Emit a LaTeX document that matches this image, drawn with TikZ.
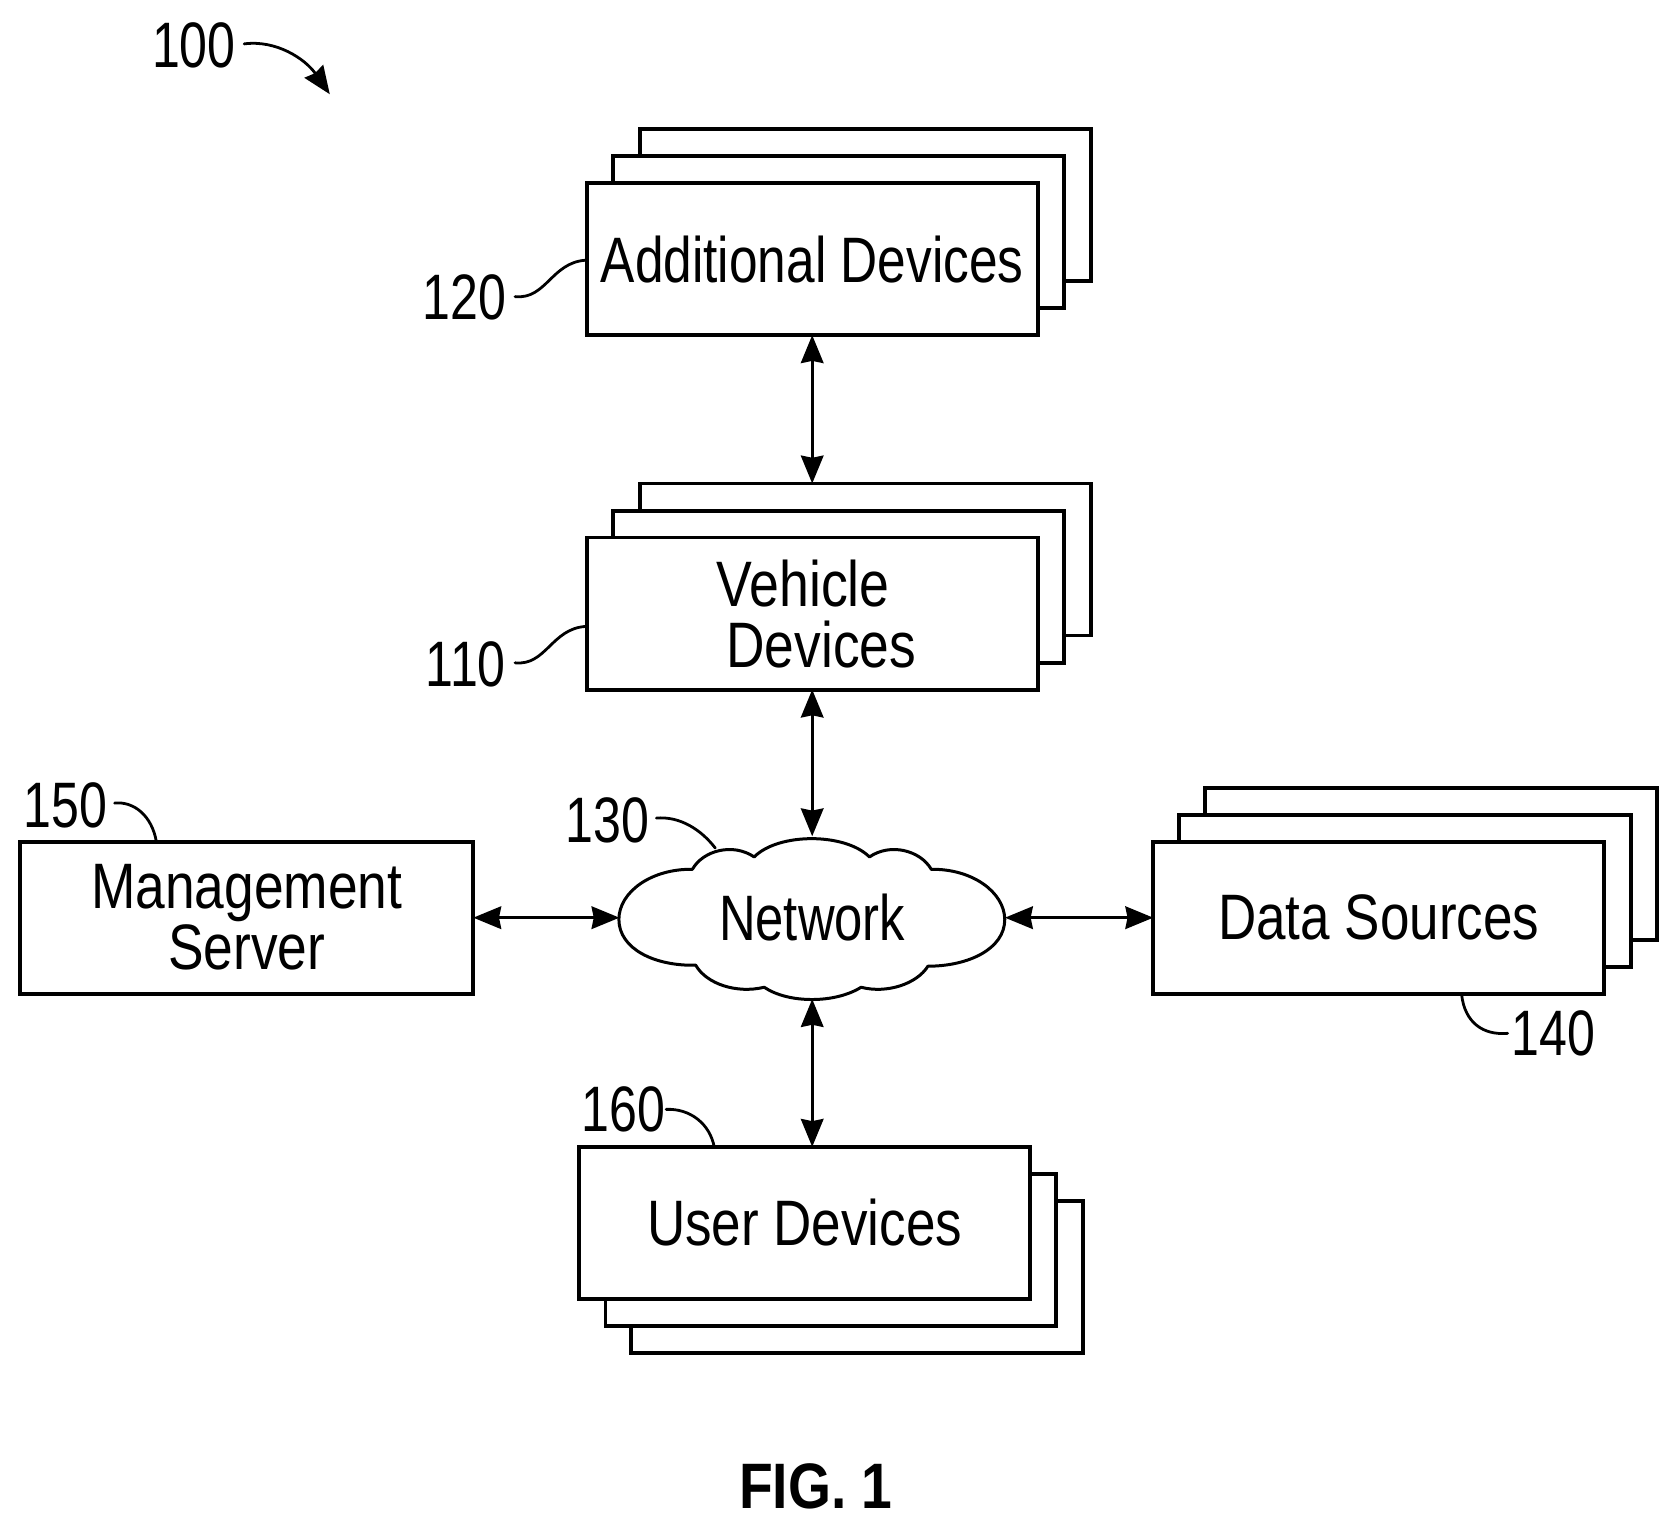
\documentclass[tikz,border=0pt]{standalone}
\usepackage{fontspec}
\setmainfont{Liberation Sans}
\usetikzlibrary{arrows.meta}
\newcommand{\narrow}[2][.78]{\scalebox{#1}[1]{#2}}
\tikzset{
  x=0.5pt,y=-0.5pt,
  devbox/.style={draw=black,fill=white,line width=1.8pt,minimum width=210.5pt,minimum height=71pt,inner sep=0pt,outer sep=0pt,align=center,font=\fontsize{30}{28.5}\selectfont},
  reflabel/.style={inner sep=0pt,outer sep=0pt,font=\fontsize{30}{30}\selectfont},
  tag/.style={line width=1.3pt,line cap=round},
  link/.style={line width=1.5pt,{Stealth[length=13pt,width=10.5pt,inset=1pt]}-{Stealth[length=13pt,width=10.5pt,inset=1pt]}},
  cloudline/.style={draw=black,fill=white,line width=1.4pt,line join=round}
}
\begin{document}
\begin{tikzpicture}
\useasboundingbox (0,0) rectangle (1568,1431.7);

% Additional Devices
\node[devbox] (add3) at (808,191.5) {};
\node[devbox] (add2) at (783,217) {};
\node[devbox] (add) at (758.5,242) {\narrow[.8]{Additional Devices}};
% Vehicle Devices
\node[devbox] (veh3) at (808,522.5) {};
\node[devbox] (veh2) at (783,548) {};
\node[devbox] (veh) at (758.5,573) {\narrow[.835]{Vehicle}\hspace*{8.5pt}\\\hspace*{8.5pt}\narrow[.83]{Devices}};
% Management Server
\node[devbox,minimum width=211.5pt] (mgt) at (230.5,857) {\narrow[.83]{Management}\\\narrow[.83]{Server}};
% Data Sources
\node[devbox,minimum width=211pt] (dat3) at (1336.5,806.5) {};
\node[devbox,minimum width=211pt] (dat2) at (1312,832) {};
\node[devbox] (dat) at (1287.5,857) {\narrow[.825]{Data Sources}};
% User Devices
\node[devbox,minimum width=211pt] (usr3) at (800.5,1192.5) {};
\node[devbox] (usr2) at (776,1167) {};
\node[devbox] (usr) at (751.5,1142) {\narrow[.825]{User Devices}};

% Network cloud
\begin{scope}[shift={(758,858)},scale=.312]
\path[cloudline] (-577,2)
  .. controls (-577,-80) and (-480,-150) .. (-357,-148)
  .. controls (-325,-205) and (-235,-228) .. (-172,-185)
  .. controls (-100,-258) and (100,-258) .. (173,-185)
  .. controls (235,-228) and (325,-205) .. (358,-148)
  .. controls (480,-150) and (577,-80) .. (578,2)
  .. controls (578,90) and (470,142) .. (348,142)
  .. controls (315,195) and (225,225) .. (148,205)
  .. controls (70,254) and (-70,254) .. (-142,205)
  .. controls (-225,225) and (-315,195) .. (-347,139)
  .. controls (-470,142) and (-577,90) .. (-577,2) -- cycle;
\end{scope}
\node[minimum width=180pt,minimum height=76pt,inner sep=0pt,outer sep=0pt,font=\fontsize{30}{30}\selectfont] (net) at (758.5,857) {\narrow[.79]{Network}};

% Links
\draw[link] (add.south) -- (add.south |- veh3.north);
\draw[link] (veh.south) -- (net.north);
\draw[link] (mgt.east) -- (net.west);
\draw[link] (net.east) -- (dat.west);
\draw[link] (net.south) -- (net.south |- usr.north);

% Reference labels
\node[reflabel] (l100) at (181,42) {\narrow{100}};
\node[reflabel] (l120) at (433.5,278) {\narrow{120}};
\node[reflabel] (l110) at (435,620) {\narrow{110}};
\node[reflabel] (l130) at (567,766) {\narrow{130}};
\node[reflabel] (l150) at (61,752) {\narrow{150}};
\node[reflabel] (l160) at (582,1036) {\narrow{160}};
\node[reflabel] (l140) at (1451,965) {\narrow{140}};
\node[inner sep=0pt,font=\fontsize{30}{30}\selectfont\bfseries] (fig) at (762,1388) {\scalebox{.86}[1]{FIG. 1}};

% Leader ends
\coordinate (s100) at (228,41);
\coordinate (e100) at (308,88);
\coordinate (s120) at (481,277);
\coordinate (e120) at (547,243);
\coordinate (s110) at (481,619);
\coordinate (e110) at (547,585);
\coordinate (s130) at (613,764);
\coordinate (e130) at (668,792);
\coordinate (s150) at (107,750);
\coordinate (e150) at (146,786);
\coordinate (s160) at (622,1036);
\coordinate (e160) at (667,1071);
\coordinate (s140) at (1408,965);
\coordinate (e140) at (1365,929);

\draw[tag,-{Stealth[length=13pt,width=10.5pt,inset=1pt]}] (s100) .. controls (258,37) and (285,55) .. (e100);
\draw[tag] (s120) .. controls (510,280) and (515,245) .. (e120);
\draw[tag] (s110) .. controls (510,622) and (515,587) .. (e110);
\draw[tag] (s130) .. controls (635,762) and (655,775) .. (e130);
\draw[tag] (s150) .. controls (125,748) and (142,762) .. (e150);
\draw[tag] (s160) .. controls (645,1035) and (663,1050) .. (e160);
\draw[tag] (s140) .. controls (1385,967) and (1368,955) .. (e140);
\end{tikzpicture}
\end{document}
